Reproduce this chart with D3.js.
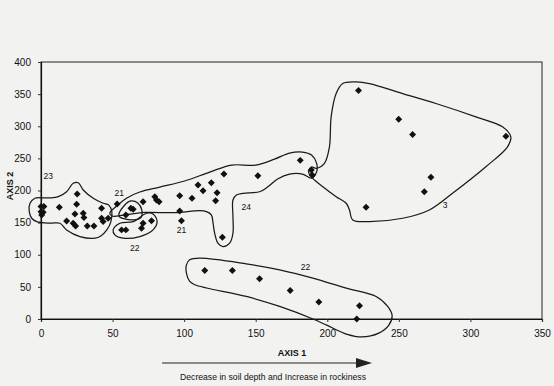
<!DOCTYPE html>
<html>
<head>
<meta charset="utf-8">
<script src="https://cdn.jsdelivr.net/npm/d3@7"></script>
<style>
  html, body { margin: 0; padding: 0; background: #f2f2f0; }
  svg { display: block; }
  text { font-family: "Liberation Sans", Arial, sans-serif; fill: #111; }
</style>
</head>
<body>
<svg id="chart" width="554" height="386"></svg>
<script>
// Ordination scores of the sampled stands
const axis1Scores = [
  0, 2, 0, 1.5, 0.5, 12.8, 25.3, 24.9, 23.7, 29.5, 30, 17.9, 22.5, 24.2, 32.3, 37, 42.3, 42.3, 43.4, 46.9,
  53.2, 59.3, 62.8, 64.4, 71.3, 79.5, 80.7, 82.5, 96.9, 96.9, 98.1, 105.5, 109.7, 113.2, 119, 123, 122, 127.8, 151.5, 126.7,
  56.3, 59.3, 70.2, 71.3, 77.2,
  221.8, 249.9, 259.6, 324.8, 272.4, 267.8, 227.1, 181.1, 188.8, 189.5,
  114.4, 133.7, 152.7, 174.1, 194.1, 222.5, 220.6
];
const axis2Scores = [
  175, 175, 167, 166, 162, 174, 194.6, 178.6, 163.5, 164.6, 157.8, 152.6, 149, 144.9, 144.9, 144.9, 172.3, 156.8, 151.6, 156.8,
  179, 162, 172.3, 170.8, 182.6, 190.4, 185.2, 182.6, 192, 168, 153, 187.9, 208.5, 199.7, 212, 196.6, 184.2, 225.6, 223, 127.3,
  138.7, 138.7, 141.3, 149, 153,
  355.6, 311, 287.3, 284.6, 220.5, 198.1, 173.9, 246.9, 231.8, 224,
  75.5, 75.5, 62.6, 44.4, 26.4, 20.7, 0
];

const xTicks = [0, 50, 100, 150, 200, 250, 300, 350];
const yTicks = [0, 50, 100, 150, 200, 250, 300, 350, 400];

// Hand-drawn community boundaries, in axis units
const group23 = [[-8.2,167],[-7.7,180],[-4.2,188],[1.6,188.5],[6.3,188.5],[12.1,190.4],[17.9,198.1],[22.5,211.2],[26,212.1],[29.5,200.8],[36.5,187.9],[43.4,180.1],[47.4,177.2],[49.5,166.6],[48.8,151.1],[46,138.7],[41.8,129.3],[37.7,125.8],[27.2,128.3],[17.9,138.7],[13.2,149.1],[6.3,149.1],[-3,151.6],[-6.5,156.8]];
const group21 = [[54.4,160.4],[57.9,175.9],[62.8,183.7],[67.6,180.6],[70.4,169.7],[69.7,157.3],[64.2,154.2],[58.6,155.7]];
const group22a = [[50.4,138.7],[55.1,149.1],[64.4,151.6],[73.7,164.6],[78.3,163.5],[81.1,151.6],[78.3,138.7],[69,128.3],[57.4,125.8],[51.6,130.9]];
const group24 = [[48.1,165.1],[53.7,177.5],[60,188.4],[69,197.7],[83,205.4],[100.4,214.8],[117.9,228.7],[133.2,239.6],[149.9,239.6],[163.2,248.9],[173.6,258.2],[182.7,259.8],[189,255.1],[192.5,242.7],[192.5,228.7],[189,219.4],[182.7,225.6],[173.6,225.6],[165.3,217.9],[158.3,205.4],[152.7,198.1],[141.1,195.7],[136.5,193],[134.1,185.2],[134.1,159.3],[134.1,133.5],[131.8,118],[127.1,112.7],[123.6,118],[121.3,133.5],[120.2,149.1],[119,162],[115.6,167.1],[110.9,168.6],[93.4,165.5],[72.5,165.8],[58.6,162],[49.5,160.4]];
const group3 = [[192.3,234.5],[198,242.2],[201.5,268],[202.7,314.6],[206.2,350.9],[210.8,366.5],[220.2,369],[229.4,366.5],[252.7,350.9],[275.9,335.4],[303.8,314.6],[322.4,299.1],[328.2,283.5],[325.9,268],[310.8,237],[287.5,195.7],[271.3,169.7],[252.7,156.8],[229.4,151.6],[217.8,154.2],[215.5,169.7],[213.2,180.1],[206.2,190.4],[196.9,205.9],[189.9,218.9],[186.9,228.7],[189,236.5]];
const group22b = [[103.9,92.1],[110.9,94.7],[143.4,85.9],[166.7,76.6],[189.9,63.7],[213.2,48.1],[234.1,35.1],[242.2,19.6],[245.3,5],[242.9,-10],[236,-22],[224,-28],[214,-24],[200,-10],[190,0],[166.7,19.6],[143.4,35.1],[107.4,53.3],[103.9,58.4],[101.6,71.4],[101.6,84.3]];
const boundaries = [group23, group21, group22a, group24, group3, group22b];

const groupLabels = ["23", "21", "22", "21", "24", "3", "22"];
const groupLabelX = [5.1, 54.6, 65.5, 98.1, 143.4, 282.4, 184.8];
const groupLabelY = [222.5, 196.6, 111.2, 138.7, 174.8, 177.5, 80.7];

const svg = d3.select("#chart");
const x = d3.scaleLinear().domain([0, 350]).range([41, 542]);
const y = d3.scaleLinear().domain([0, 400]).range([319, 62]);

// plot frame
svg.append("rect")
  .attr("x", x(0)).attr("y", y(400))
  .attr("width", x(350) - x(0)).attr("height", y(0) - y(400))
  .attr("fill", "none").attr("stroke", "#222").attr("stroke-width", 1);

const xAxis = svg.append("g")
  .attr("transform", `translate(0,${y(0)})`)
  .call(d3.axisBottom(x).tickValues(xTicks).tickSize(3).tickPadding(8).tickFormat(d3.format("d")));
const yAxis = svg.append("g")
  .attr("transform", `translate(${x(0)},0)`)
  .call(d3.axisLeft(y).tickValues(yTicks).tickSize(3).tickPadding(7).tickFormat(d3.format("d")));
[xAxis, yAxis].forEach(g => {
  g.select(".domain").attr("stroke", "#111").attr("stroke-width", 1.2);
  g.selectAll(".tick line").attr("stroke", "#333");
  g.selectAll(".tick text").attr("font-size", 10).attr("fill", "#111")
    .attr("font-family", "'Liberation Sans', Arial, sans-serif");
});

// community boundaries
const outline = d3.line()
  .x(d => x(d[0])).y(d => y(d[1]))
  .curve(d3.curveCatmullRomClosed.alpha(0.5));
svg.append("g").selectAll("path").data(boundaries).join("path")
  .attr("d", outline)
  .attr("fill", "none").attr("stroke", "#1a1a1a").attr("stroke-width", 1.25);

// stands
const diamond = d3.symbol().type(d3.symbolDiamond2).size(31);
svg.append("g").selectAll("path").data(axis1Scores.map((v, i) => [v, axis2Scores[i]])).join("path")
  .attr("d", diamond)
  .attr("transform", d => `translate(${x(d[0])},${y(d[1])})`)
  .attr("fill", "#111");

// community numbers
svg.append("g").selectAll("text").data(groupLabels).join("text")
  .attr("x", (d, i) => x(groupLabelX[i]))
  .attr("y", (d, i) => y(groupLabelY[i]))
  .attr("text-anchor", "middle").attr("dominant-baseline", "central")
  .attr("font-size", 8.5)
  .text(d => d);

// axis titles
svg.append("text")
  .attr("transform", "translate(10,186) rotate(-90)")
  .attr("text-anchor", "middle").attr("dominant-baseline", "central")
  .attr("font-size", 9).attr("font-weight", "bold")
  .text("AXIS 2");
svg.append("text")
  .attr("x", 292).attr("y", 353)
  .attr("text-anchor", "middle").attr("dominant-baseline", "central")
  .attr("font-size", 9).attr("font-weight", "bold")
  .text("AXIS 1");

// gradient arrow along axis 1
svg.append("line")
  .attr("x1", 162).attr("y1", 363).attr("x2", 358).attr("y2", 363)
  .attr("stroke", "#222").attr("stroke-width", 1.2);
svg.append("path")
  .attr("d", "M356,358 L372,363 L356,368 Z")
  .attr("fill", "#222");

svg.append("text")
  .attr("x", 273).attr("y", 377)
  .attr("text-anchor", "middle").attr("dominant-baseline", "central")
  .attr("font-size", 9)
  .attr("textLength", 186).attr("lengthAdjust", "spacingAndGlyphs")
  .text("Decrease in soil depth and Increase in rockiness");
</script>
</body>
</html>
